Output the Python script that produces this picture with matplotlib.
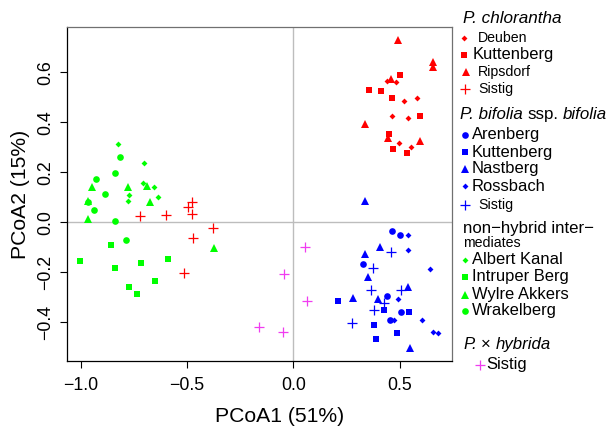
import matplotlib.pyplot as plt

plt.rcParams["font.family"] = ["Liberation Sans", "DejaVu Sans"]

# PCoA scores per population (axis 1, axis 2)
chl_deuben_x = [0.441, 0.481, 0.522, 0.580, 0.463, 0.541, 0.498, 0.552]
chl_deuben_y = [0.565, 0.561, 0.484, 0.498, 0.426, 0.418, 0.316, 0.301]
chl_kutt_x = [0.503, 0.357, 0.414, 0.465, 0.597, 0.451, 0.470, 0.536]
chl_kutt_y = [0.588, 0.528, 0.524, 0.496, 0.424, 0.352, 0.292, 0.276]
chl_rips_x = [0.491, 0.655, 0.657, 0.461, 0.337, 0.444, 0.596]
chl_rips_y = [0.729, 0.642, 0.622, 0.572, 0.392, 0.336, 0.325]
chl_sistig_x = [-0.722, -0.597, -0.496, -0.476, -0.476, -0.379, -0.473, -0.512]
chl_sistig_y = [0.024, 0.029, 0.062, 0.081, 0.033, -0.022, -0.062, -0.202]

bif_aren_x = [0.465, 0.502, 0.329, 0.441, 0.508, 0.453]
bif_aren_y = [-0.036, -0.051, -0.168, -0.296, -0.359, -0.390]
bif_kutt_x = [0.212, 0.428, 0.545, 0.381, 0.489, 0.390]
bif_kutt_y = [-0.316, -0.351, -0.360, -0.412, -0.443, -0.468]
bif_nast_x = [0.337, 0.406, 0.337, 0.351, 0.281, 0.539, 0.398, 0.550]
bif_nast_y = [0.086, -0.100, -0.127, -0.218, -0.302, -0.260, -0.306, -0.502]
bif_ross_x = [0.539, 0.539, 0.641, 0.492, 0.472, 0.606, 0.658, 0.680]
bif_ross_y = [-0.051, -0.111, -0.186, -0.307, -0.390, -0.390, -0.439, -0.442]
bif_sistig_x = [0.459, 0.376, 0.364, 0.505, 0.428, 0.378, 0.277]
bif_sistig_y = [-0.120, -0.183, -0.271, -0.271, -0.322, -0.351, -0.402]

int_albert_x = [-0.824, -0.703, -0.705, -0.655, -0.774, -0.777, -0.636]
int_albert_y = [0.312, 0.236, 0.156, 0.142, 0.109, 0.084, 0.100]
int_intr_x = [-0.856, -1.001, -0.837, -0.715, -0.588, -0.649, -0.771, -0.733]
int_intr_y = [-0.092, -0.156, -0.183, -0.164, -0.147, -0.236, -0.259, -0.288]
int_wylre_x = [-0.946, -0.776, -0.689, -0.964, -0.675, -0.965, -0.373]
int_wylre_y = [0.141, 0.142, 0.145, 0.084, 0.082, 0.014, -0.104]
int_wrak_x = [-0.813, -0.837, -0.926, -0.887, -0.967, -0.937, -0.837, -0.788]
int_wrak_y = [0.261, 0.196, 0.173, 0.113, 0.081, 0.048, 0.006, -0.071]

hyb_sistig_x = [0.054, -0.045, 0.063, -0.161, -0.050]
hyb_sistig_y = [-0.100, -0.208, -0.314, -0.418, -0.438]

RED, BLUE, GREEN, PINK = "#ff0000", "#0000ff", "#00ff00", "#f03cf0"

# marker style per symbol type: (marker, markersize)
STYLE = {
    "diamond": ("D", 3.0),
    "square": ("s", 4.8),
    "triangle": ("^", 5.6),
    "circle": ("o", 4.8),
    "plus": ("+", 6.5),
}

series = [
    (chl_deuben_x, chl_deuben_y, "diamond", RED),
    (chl_kutt_x, chl_kutt_y, "square", RED),
    (chl_rips_x, chl_rips_y, "triangle", RED),
    (chl_sistig_x, chl_sistig_y, "plus", RED),
    (bif_aren_x, bif_aren_y, "circle", BLUE),
    (bif_kutt_x, bif_kutt_y, "square", BLUE),
    (bif_nast_x, bif_nast_y, "triangle", BLUE),
    (bif_ross_x, bif_ross_y, "diamond", BLUE),
    (bif_sistig_x, bif_sistig_y, "plus", BLUE),
    (int_albert_x, int_albert_y, "diamond", GREEN),
    (int_intr_x, int_intr_y, "square", GREEN),
    (int_wylre_x, int_wylre_y, "triangle", GREEN),
    (int_wrak_x, int_wrak_y, "circle", GREEN),
    (hyb_sistig_x, hyb_sistig_y, "plus", PINK),
]

W, H = 610, 428
fig = plt.figure(figsize=(W / 100, H / 100), dpi=100)
ax = fig.add_axes([66.7 / W, 1 - 361 / H, (452 - 66.7) / W, (361 - 27.3) / H])

ax.axhline(0, color="#bdbdbd", lw=1, zorder=1)
ax.axvline(0, color="#bdbdbd", lw=1, zorder=1)

for xs, ys, kind, col in series:
    m, ms = STYLE[kind]
    ax.plot(xs, ys, ls="none", marker=m, ms=ms, color=col,
            mew=0.9 if kind == "plus" else 0, zorder=3)

ax.set_xlim(-1.065, 0.746)
ax.set_ylim(-0.555, 0.78)
ax.set_xticks([-1.0, -0.5, 0.0, 0.5])
ax.set_yticks([-0.4, -0.2, 0.0, 0.2, 0.4, 0.6])
ax.set_xticklabels(["−1.0", "−0.5", "0.0", "0.5"])
ax.set_yticklabels(["−0.4", "−0.2", "0.0", "0.2", "0.4", "0.6"])
ax.tick_params(length=5, width=0.8, pad=4, labelsize=12.8, colors="black")
ax.tick_params(axis="x", pad=6.5)
ax.tick_params(axis="y", labelrotation=90)
for t in ax.get_yticklabels():
    t.set_va("center")
for side in ["left", "bottom"]:
    ax.spines[side].set_color("black")
    ax.spines[side].set_linewidth(0.9)
for side in ["top", "right"]:
    ax.spines[side].set_color("#707070")
    ax.spines[side].set_linewidth(0.9)
ax.set_xlabel("PCoA1 (51%)", fontsize=15.2)
ax.xaxis.set_label_coords(0.5536, -0.138)
ax.set_ylabel("PCoA2 (15%)", fontsize=15.2, labelpad=5)

# legend drawn in pixel space to the right of the plot
lax = fig.add_axes([0, 0, 1, 1])
lax.set_xlim(0, W)
lax.set_ylim(H, 0)
lax.axis("off")
renderer = fig.canvas.get_renderer()


def head(x, y, parts, size=12.2):
    # parts: list of (text, style), laid out one after another with a space
    space = size * 100 / 72 * 0.28
    for text, style in parts:
        t = lax.text(x, y, text, fontsize=size, ha="left", va="center", style=style)
        x += t.get_window_extent(renderer).width + space


def entry(mx, tx, y, kind, col, label, size):
    m, ms = STYLE[kind]
    lax.plot([mx], [y], ls="none", marker=m, ms=ms, color=col,
             mew=0.9 if kind == "plus" else 0)
    lax.text(tx, y, label, fontsize=size, ha="left", va="center")


head(463, 18, [("P. chlorantha", "italic")], 12.3)
entry(463.5, 478, 37.5, "diamond", RED, "Deuben", 10.2)
entry(464, 473, 54.5, "square", RED, "Kuttenberg", 11.9)
entry(466, 478, 71.5, "triangle", RED, "Ripsdorf", 10.2)
entry(464.5, 478, 89, "plus", RED, "Sistig", 10.2)

head(460, 114.5, [("P. bifolia", "italic"), ("ssp.", "normal"), ("bifolia", "italic")], 12.2)
entry(464.5, 472, 134.5, "circle", BLUE, "Arenberg", 11.9)
entry(464.5, 472, 152, "square", BLUE, "Kuttenberg", 11.9)
entry(464.5, 472, 169, "triangle", BLUE, "Nastberg", 11.9)
entry(464.5, 472, 186, "diamond", BLUE, "Rossbach", 11.9)
entry(465, 478, 204.5, "plus", BLUE, "Sistig", 10.2)

head(463, 228.5, [("non−hybrid inter−", "normal")], 12.1)
head(463, 242.5, [("mediates", "normal")], 10.2)
entry(464.5, 471.5, 260, "diamond", GREEN, "Albert Kanal", 11.9)
entry(464.5, 471.5, 277, "square", GREEN, "Intruper Berg", 11.9)
entry(464.5, 471.5, 294.5, "triangle", GREEN, "Wylre Akkers", 11.9)
entry(464.5, 471.5, 311, "circle", GREEN, "Wrakelberg", 11.9)

head(463, 344.5, [("P.", "italic"), ("×", "normal"), ("hybrida", "italic")], 12.1)
entry(479.5, 486.5, 364.5, "plus", PINK, "Sistig", 11.9)

fig.savefig("out.png", dpi=100)
